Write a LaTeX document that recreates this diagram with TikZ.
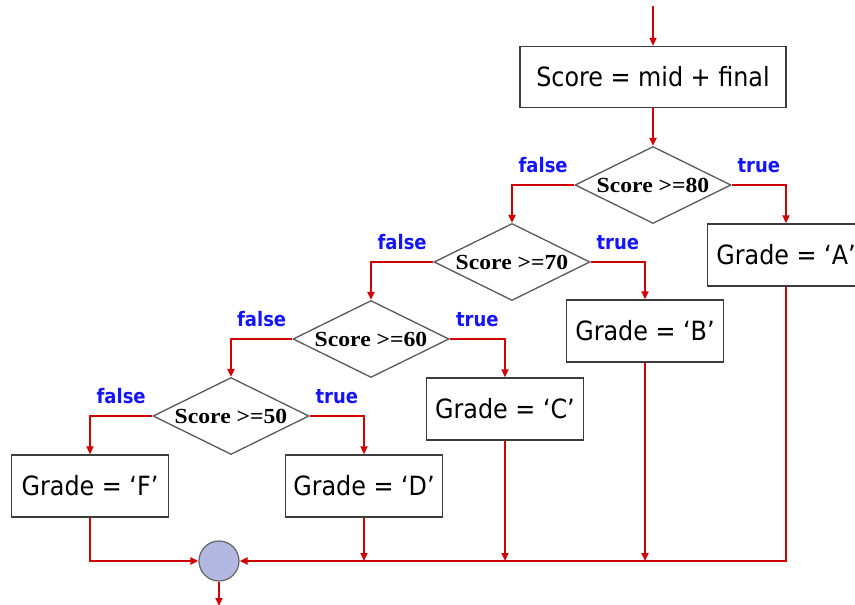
\documentclass[tikz,border=0pt]{standalone}
\usepackage{fontspec}
\setmainfont{DejaVu Sans Condensed}
\newfontfamily\testfont[FakeStretch=1.1]{Liberation Serif}
\usetikzlibrary{shapes.geometric,arrows.meta}
\definecolor{flowred}{HTML}{D00000}
\definecolor{lblblue}{HTML}{1414FF}
\definecolor{edgegray}{HTML}{3C3C3C}
\definecolor{joinfill}{HTML}{B3B8E3}
\tikzset{
  procbox/.style={draw=edgegray, line width=1.4pt, fill=white, minimum width=157pt,
    minimum height=62pt, inner sep=0pt, font=\fontsize{26.5}{30}\selectfont},
  testbox/.style={diamond, draw=edgegray!85, line width=1.3pt, fill=white, aspect=2.05,
    minimum width=156pt, minimum height=77pt, inner sep=0pt,
    font=\testfont\bfseries\fontsize{21.5}{24}\selectfont},
  flow/.style={draw=flowred, line width=2.2pt, -{Triangle[length=8pt,width=7pt]}},
  lbl/.style={text=lblblue, inner sep=0pt, font=\bfseries\fontsize{20}{23}\selectfont},
  joinpt/.style={circle, draw=edgegray!80, line width=1.2pt, fill=joinfill,
    minimum size=40pt, inner sep=0pt}
}
\begin{document}
\begin{tikzpicture}[x=1pt,y=-1pt]
\clip (0,0) rectangle (855,605);
\fill[white] (0,0) rectangle (855,605);

% process boxes
\node[procbox, minimum width=266pt, minimum height=61pt] (score) at (653,77) {Score = mid + final};
\node[procbox] (gA) at (786,255) {Grade = ‘A’};
\node[procbox] (gB) at (645,331) {Grade = ‘B’};
\node[procbox] (gC) at (505,409) {Grade = ‘C’};
\node[procbox] (gD) at (364,486) {Grade = ‘D’};
\node[procbox] (gF) at (90,486) {Grade = ‘F’};

% decisions
\node[testbox] (d80) at (653,185) {Score >=80};
\node[testbox] (d70) at (512,262) {Score >=70};
\node[testbox] (d60) at (371,339) {Score >=60};
\node[testbox] (d50) at (231,416) {Score >=50};

% join point
\node[joinpt] (join) at (219,561) {};

\coordinate (entry) at (653,6);
\coordinate (exit) at (219,606);

% main flow
\draw[flow] (entry) -- (score);
\draw[flow] (score) -- (d80);

\draw[flow] (d80.west) -| node[lbl, pos=0.25, above=11pt] {false} (d70.north);
\draw[flow] (d80.east) -| node[lbl, pos=0.25, above=11pt] {true} (gA.north);
\draw[flow] (d70.west) -| node[lbl, pos=0.25, above=11pt] {false} (d60.north);
\draw[flow] (d70.east) -| node[lbl, pos=0.25, above=11pt] {true} (gB.north);
\draw[flow] (d60.west) -| node[lbl, pos=0.25, above=11pt] {false} (d50.north);
\draw[flow] (d60.east) -| node[lbl, pos=0.25, above=11pt] {true} (gC.north);
\draw[flow] (d50.west) -| node[lbl, pos=0.25, above=11pt] {false} (gF.north);
\draw[flow] (d50.east) -| node[lbl, pos=0.25, above=11pt] {true} (gD.north);

% merging into the join point
\draw[flow] (gF.south) |- (join.west);
\draw[flow] (gA.south) |- (join.east);
\draw[flow] (gB.south) -- (gB.south |- join.center);
\draw[flow] (gC.south) -- (gC.south |- join.center);
\draw[flow] (gD.south) -- (gD.south |- join.center);
\draw[flow] (join) -- (exit);
\end{tikzpicture}
\end{document}
